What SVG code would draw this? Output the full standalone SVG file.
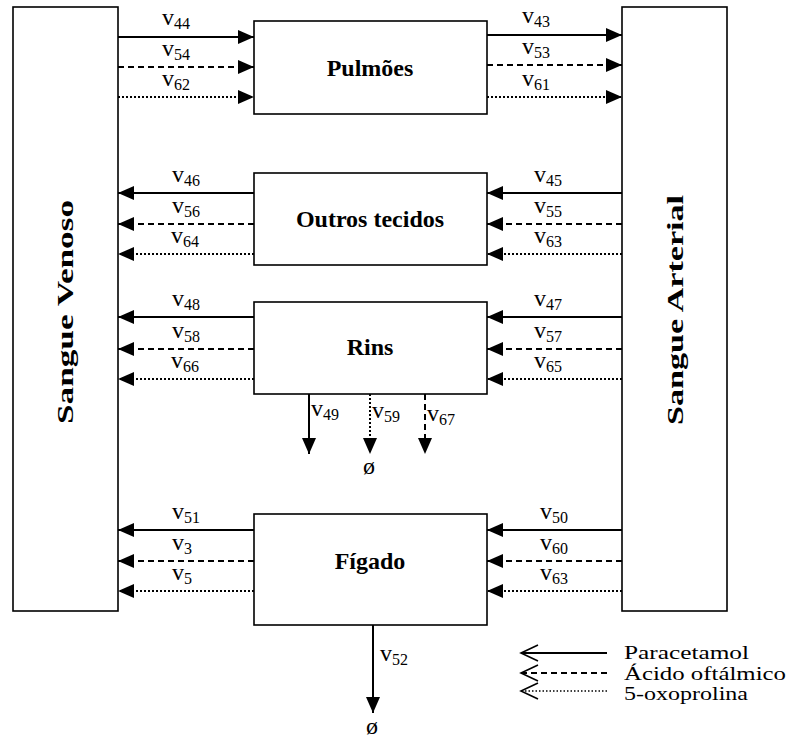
<svg xmlns="http://www.w3.org/2000/svg" width="787" height="740" viewBox="0 0 787 740">
<style>
.box{fill:#fff;stroke:#000;stroke-width:1.6}
.title{font-family:"Liberation Serif","Times New Roman",serif;font-weight:bold;font-size:24px;text-anchor:middle}
.lbl{font-family:"Liberation Serif","Times New Roman",serif;font-size:24px}
.sub{font-size:16px}
.leg{font-family:"Liberation Serif","Times New Roman",serif;font-size:18px}
.s{stroke:#000;stroke-width:2;fill:none}
.d{stroke:#000;stroke-width:2;fill:none;stroke-dasharray:6 4}
.o{stroke:#000;stroke-width:2;fill:none;stroke-dasharray:2 2}
.ch{stroke:#000;stroke-width:1.6;fill:none}
</style>
<defs>
<marker id="ah" markerUnits="userSpaceOnUse" markerWidth="17" markerHeight="15" refX="16" refY="7" orient="auto">
<path d="M0,0 L16,7 L0,14 Z" fill="#000" stroke="none"/>
</marker>
</defs>

<g id="venoso">
<rect class="box" x="13" y="7" width="105" height="604"/>
<text class="title" transform="translate(73,312) rotate(-90)" textLength="224" lengthAdjust="spacingAndGlyphs">Sangue Venoso</text>
</g>
<g id="arterial">
<rect class="box" x="622" y="7" width="105" height="604"/>
<text class="title" transform="translate(683,310) rotate(-90)" textLength="230" lengthAdjust="spacingAndGlyphs">Sangue Arterial</text>
</g>
<g id="pulmoes">
<rect class="box" x="254" y="21" width="233" height="93"/>
<text class="title" x="370" y="76">Pulmões</text>
</g>
<g id="outros">
<rect class="box" x="254" y="173" width="233" height="92"/>
<text class="title" x="370" y="227">Outros tecidos</text>
</g>
<g id="rins">
<rect class="box" x="254" y="302" width="233" height="92"/>
<text class="title" x="370" y="355">Rins</text>
</g>
<g id="figado">
<rect class="box" x="254" y="514" width="233" height="111"/>
<text class="title" x="370" y="569">Fígado</text>
</g>

<g id="connectors">
<line class="s" x1="118" y1="37" x2="254" y2="37" marker-end="url(#ah)"/>
<line class="d" x1="118" y1="67" x2="254" y2="67" marker-end="url(#ah)"/>
<line class="o" x1="118" y1="97" x2="254" y2="97" marker-end="url(#ah)"/>
<line class="s" x1="487" y1="35" x2="622" y2="35" marker-end="url(#ah)"/>
<line class="d" x1="487" y1="65" x2="622" y2="65" marker-end="url(#ah)"/>
<line class="o" x1="487" y1="97" x2="622" y2="97" marker-end="url(#ah)"/>
<line class="s" x1="254" y1="193" x2="118" y2="193" marker-end="url(#ah)"/>
<line class="d" x1="254" y1="224" x2="118" y2="224" marker-end="url(#ah)"/>
<line class="o" x1="254" y1="254" x2="118" y2="254" marker-end="url(#ah)"/>
<line class="s" x1="622" y1="193" x2="487" y2="193" marker-end="url(#ah)"/>
<line class="d" x1="622" y1="224" x2="487" y2="224" marker-end="url(#ah)"/>
<line class="o" x1="622" y1="254" x2="487" y2="254" marker-end="url(#ah)"/>
<line class="s" x1="254" y1="317" x2="118" y2="317" marker-end="url(#ah)"/>
<line class="d" x1="254" y1="349" x2="118" y2="349" marker-end="url(#ah)"/>
<line class="o" x1="254" y1="379" x2="118" y2="379" marker-end="url(#ah)"/>
<line class="s" x1="622" y1="317" x2="487" y2="317" marker-end="url(#ah)"/>
<line class="d" x1="622" y1="349" x2="487" y2="349" marker-end="url(#ah)"/>
<line class="o" x1="622" y1="379" x2="487" y2="379" marker-end="url(#ah)"/>
<line class="s" x1="309" y1="394" x2="309" y2="454" marker-end="url(#ah)"/>
<line class="o" x1="370" y1="394" x2="370" y2="454" marker-end="url(#ah)"/>
<line class="d" x1="425" y1="394" x2="425" y2="454" marker-end="url(#ah)"/>
<line class="s" x1="254" y1="530" x2="118" y2="530" marker-end="url(#ah)"/>
<line class="d" x1="254" y1="561" x2="118" y2="561" marker-end="url(#ah)"/>
<line class="o" x1="254" y1="591" x2="118" y2="591" marker-end="url(#ah)"/>
<line class="s" x1="622" y1="530" x2="487" y2="530" marker-end="url(#ah)"/>
<line class="d" x1="622" y1="561" x2="487" y2="561" marker-end="url(#ah)"/>
<line class="o" x1="622" y1="591" x2="487" y2="591" marker-end="url(#ah)"/>
<line class="s" x1="373" y1="625" x2="373" y2="713" marker-end="url(#ah)"/>
</g>

<g id="labels">
<text class="lbl" x="162" y="25">v<tspan class="sub" dy="4">44</tspan></text>
<text class="lbl" x="162" y="56">v<tspan class="sub" dy="4">54</tspan></text>
<text class="lbl" x="162" y="86">v<tspan class="sub" dy="4">62</tspan></text>
<text class="lbl" x="522" y="23">v<tspan class="sub" dy="4">43</tspan></text>
<text class="lbl" x="522" y="54">v<tspan class="sub" dy="4">53</tspan></text>
<text class="lbl" x="522" y="86">v<tspan class="sub" dy="4">61</tspan></text>

<text class="lbl" x="172" y="182">v<tspan class="sub" dy="4">46</tspan></text>
<text class="lbl" x="172" y="213">v<tspan class="sub" dy="4">56</tspan></text>
<text class="lbl" x="171" y="243">v<tspan class="sub" dy="4">64</tspan></text>
<text class="lbl" x="534" y="182">v<tspan class="sub" dy="4">45</tspan></text>
<text class="lbl" x="534" y="213">v<tspan class="sub" dy="4">55</tspan></text>
<text class="lbl" x="534" y="243">v<tspan class="sub" dy="4">63</tspan></text>

<text class="lbl" x="172" y="306">v<tspan class="sub" dy="4">48</tspan></text>
<text class="lbl" x="172" y="338">v<tspan class="sub" dy="4">58</tspan></text>
<text class="lbl" x="171" y="368">v<tspan class="sub" dy="4">66</tspan></text>
<text class="lbl" x="534" y="306">v<tspan class="sub" dy="4">47</tspan></text>
<text class="lbl" x="534" y="338">v<tspan class="sub" dy="4">57</tspan></text>
<text class="lbl" x="534" y="368">v<tspan class="sub" dy="4">65</tspan></text>

<text class="lbl" x="311" y="416">v<tspan class="sub" dy="4">49</tspan></text>
<text class="lbl" x="372" y="418">v<tspan class="sub" dy="4">59</tspan></text>
<text class="lbl" x="427" y="421">v<tspan class="sub" dy="4">67</tspan></text>
<text class="lbl" x="363" y="474">ø</text>

<text class="lbl" x="172" y="519">v<tspan class="sub" dy="4">51</tspan></text>
<text class="lbl" x="172" y="550">v<tspan class="sub" dy="4">3</tspan></text>
<text class="lbl" x="172" y="580">v<tspan class="sub" dy="4">5</tspan></text>
<text class="lbl" x="540" y="519">v<tspan class="sub" dy="4">50</tspan></text>
<text class="lbl" x="540" y="550">v<tspan class="sub" dy="4">60</tspan></text>
<text class="lbl" x="540" y="580">v<tspan class="sub" dy="4">63</tspan></text>

<text class="lbl" x="380" y="661">v<tspan class="sub" dy="4">52</tspan></text>
<text class="lbl" x="366" y="734">ø</text>
</g>

<g id="legend">
<line class="s" x1="607" y1="653" x2="521" y2="653"/>
<polyline class="ch" points="538,645 521,653 538,661"/>
<line class="d" x1="607" y1="673" x2="521" y2="673"/>
<polyline class="ch" points="538,665 521,673 538,681"/>
<line class="o" x1="607" y1="691" x2="521" y2="691" style="stroke-width:1.5;stroke-dasharray:1.5 2"/>
<polyline class="ch" points="538,683 521,691 538,699"/>
<text class="leg" x="624" y="659" textLength="125" lengthAdjust="spacingAndGlyphs">Paracetamol</text>
<text class="leg" x="624" y="680" textLength="162" lengthAdjust="spacingAndGlyphs">Ácido oftálmico</text>
<text class="leg" x="624" y="700" textLength="124" lengthAdjust="spacingAndGlyphs">5-oxoprolina</text>
</g>
</svg>
